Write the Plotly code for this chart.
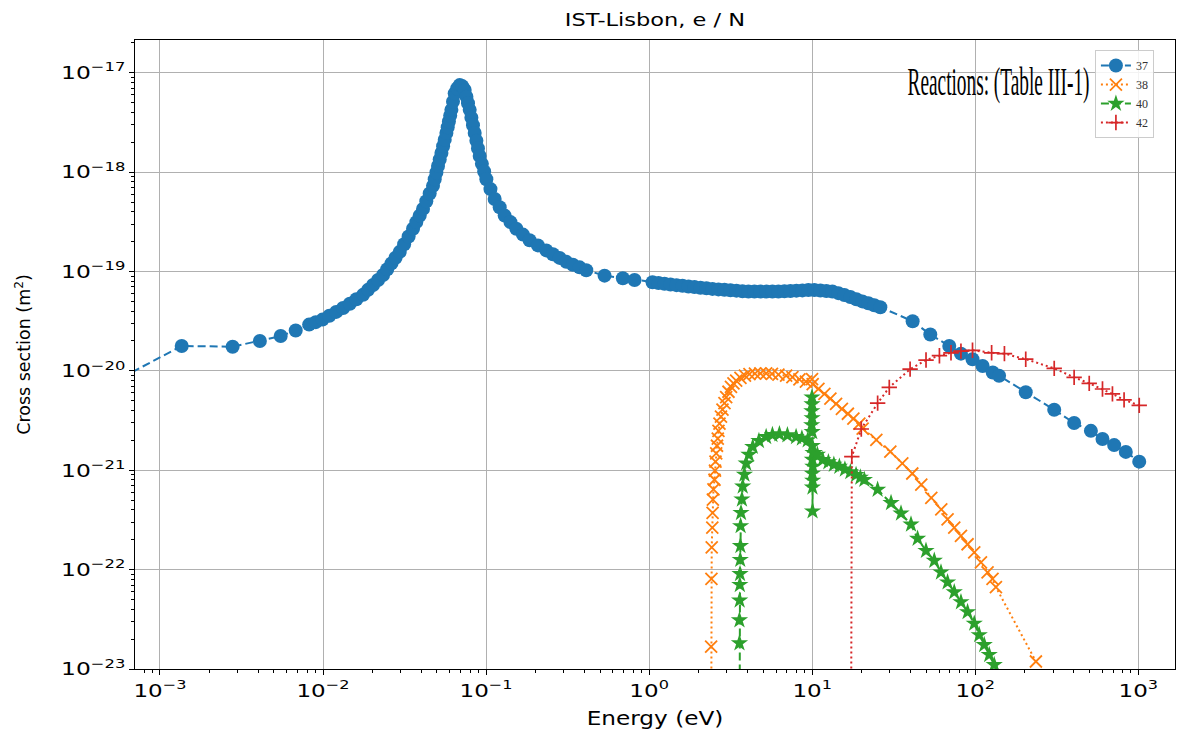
import plotly.graph_objects as go

# Cross sections (energy in eV, cross section in m^2) for each reaction
reaction_37 = [
    (5.0e-4, 7.5e-21), (1.36e-3, 1.78e-20), (2.79e-3, 1.75e-20), (4.1e-3, 2.0e-20),
    (5.5e-3, 2.24e-20), (6.8e-3, 2.55e-20), (8.22e-3, 2.92e-20), (9.03e-3, 3.09e-20),
    (9.93e-3, 3.28e-20), (1.094e-2, 3.58e-20), (1.205e-2, 3.92e-20), (1.328e-2, 4.29e-20),
    (1.460e-2, 4.74e-20), (1.602e-2, 5.26e-20), (1.761e-2, 5.82e-20), (1.889e-2, 6.53e-20),
    (2.028e-2, 7.32e-20), (2.176e-2, 8.21e-20), (2.335e-2, 9.21e-20), (2.477e-2, 1.052e-19),
    (2.629e-2, 1.205e-19), (2.786e-2, 1.376e-19), (2.955e-2, 1.575e-19), (3.144e-2, 1.88e-19),
    (3.35e-2, 2.25e-19), (3.565e-2, 2.69e-19), (3.735e-2, 3.14e-19), (3.918e-2, 3.65e-19),
    (4.105e-2, 4.26e-19), (4.30e-2, 5.09e-19), (4.511e-2, 6.08e-19), (4.726e-2, 7.27e-19),
    (4.842e-2, 8.48e-19), (4.96e-2, 9.89e-19), (5.074e-2, 1.15e-18), (5.197e-2, 1.34e-18),
    (5.323e-2, 1.56e-18), (5.452e-2, 1.82e-18), (5.577e-2, 2.12e-18), (5.712e-2, 2.48e-18),
    (5.818e-2, 2.83e-18), (5.918e-2, 3.23e-18), (6.026e-2, 3.70e-18), (6.129e-2, 4.23e-18),
    (6.269e-2, 5.12e-18), (6.421e-2, 6.20e-18), (6.651e-2, 6.93e-18), (6.89e-2, 7.50e-18),
    (7.139e-2, 7.33e-18), (7.395e-2, 6.69e-18), (7.575e-2, 5.74e-18), (7.748e-2, 4.93e-18),
    (7.936e-2, 4.23e-18), (8.128e-2, 3.53e-18), (8.314e-2, 2.96e-18), (8.515e-2, 2.48e-18),
    (8.722e-2, 2.07e-18), (8.92e-2, 1.73e-18), (9.137e-2, 1.45e-18), (9.425e-2, 1.21e-18),
    (9.736e-2, 1.014e-18), (0.1004, 8.48e-19), (0.1064, 6.74e-19), (0.1129, 5.36e-19),
    (0.1212, 4.43e-19), (0.1300, 3.65e-19), (0.1411, 3.14e-19), (0.1533, 2.69e-19),
    (0.1683, 2.35e-19), (0.1850, 2.06e-19), (0.2080, 1.83e-19), (0.2341, 1.63e-19),
    (0.2570, 1.49e-19), (0.2825, 1.37e-19), (0.3105, 1.25e-19), (0.3407, 1.17e-19),
    (0.3746, 1.10e-19), (0.4117, 1.03e-19), (0.5329, 9.08e-20), (0.6899, 8.54e-20),
    (0.8138, 8.21e-20), (1.049, 7.79e-20), (1.142, 7.66e-20), (1.243, 7.52e-20),
    (1.352, 7.40e-20), (1.472, 7.28e-20), (1.602, 7.17e-20), (1.743, 7.05e-20),
    (1.897, 6.96e-20), (2.065, 6.86e-20), (2.247, 6.77e-20), (2.446, 6.68e-20),
    (2.662, 6.60e-20), (2.897, 6.54e-20), (3.153, 6.47e-20), (3.432, 6.41e-20),
    (3.735, 6.33e-20), (4.065, 6.29e-20), (4.424, 6.29e-20), (4.815, 6.29e-20),
    (5.241, 6.29e-20), (5.703, 6.29e-20), (6.207, 6.29e-20), (6.756, 6.32e-20),
    (7.353, 6.36e-20), (8.002, 6.41e-20), (8.710, 6.45e-20), (9.478, 6.50e-20),
    (10.31, 6.52e-20), (11.23, 6.44e-20), (12.22, 6.36e-20), (13.30, 6.29e-20),
    (14.47, 6.05e-20), (15.75, 5.80e-20), (17.14, 5.53e-20), (18.66, 5.26e-20),
    (20.31, 5.00e-20), (22.10, 4.79e-20), (24.05, 4.57e-20), (26.18, 4.37e-20),
    (41.3, 3.16e-20), (53.0, 2.32e-20), (69.3, 1.78e-20), (81.7, 1.49e-20),
    (96.2, 1.31e-20), (111, 1.12e-20), (128, 9.64e-21), (140, 8.93e-21),
    (204, 6.1e-21), (305, 4.06e-21), (404, 2.99e-21), (512, 2.49e-21),
    (603, 2.06e-21), (711, 1.79e-21), (838, 1.53e-21), (1013, 1.22e-21),
]

reaction_38 = [
    (2.40, 1e-24), (2.40, 1.68e-23), (2.41, 8.07e-23), (2.42, 1.67e-22), (2.44, 2.64e-22),
    (2.45, 3.73e-22), (2.46, 5.07e-22), (2.48, 6.42e-22), (2.516, 8.02e-22), (2.534, 9.93e-22),
    (2.552, 1.221e-21), (2.578, 1.478e-21), (2.607, 1.763e-21), (2.636, 2.084e-21),
    (2.662, 2.488e-21), (2.700, 2.942e-21), (2.758, 3.47e-21), (2.817, 4.075e-21),
    (2.897, 4.73e-21), (2.968, 5.43e-21), (3.066, 6.16e-21), (3.176, 6.91e-21),
    (3.290, 7.49e-21), (3.418, 7.97e-21), (3.631, 8.50e-21), (3.869, 8.94e-21),
    (4.124, 9.27e-21), (4.456, 9.38e-21), (4.815, 9.42e-21), (5.219, 9.42e-21),
    (5.665, 9.31e-21), (6.207, 9.17e-21), (6.920, 8.94e-21), (7.563, 8.63e-21),
    (8.349, 8.21e-21), (9.150, 7.79e-21), (9.98, 8.26e-21), (10.07, 7.37e-21),
    (10.92, 6.60e-21), (11.88, 5.88e-21), (12.93, 5.25e-21), (14.01, 4.66e-21),
    (15.21, 4.15e-21), (16.55, 3.70e-21), (17.89, 3.30e-21), (19.46, 2.94e-21),
    (20.39, 2.62e-21), (24.74, 2.02e-21), (30.15, 1.536e-21), (35.70, 1.174e-21),
    (41.11, 9.27e-22), (46.67, 7.15e-22), (53.76, 5.26e-22), (61.90, 4.03e-22),
    (67.66, 3.20e-22), (74.34, 2.64e-22), (81.74, 2.18e-22), (89.73, 1.80e-22),
    (98.6, 1.49e-22), (108.4, 1.18e-22), (119.0, 9.40e-23), (127.6, 8.08e-23),
    (133.9, 6.66e-23), (235.5, 1.19e-23),
]

reaction_40 = [
    (3.58, 1e-24), (3.58, 1.82e-23), (3.58, 3.10e-23), (3.59, 4.91e-23), (3.60, 7.04e-23),
    (3.61, 9.06e-23), (3.62, 1.258e-22), (3.63, 1.735e-22), (3.64, 2.75e-22), (3.66, 3.73e-22),
    (3.708, 5.10e-22), (3.750, 6.88e-22), (3.841, 9.06e-22), (3.936, 1.174e-21),
    (4.094, 1.434e-21), (4.320, 1.723e-21), (4.714, 1.978e-21), (5.219, 2.168e-21),
    (5.703, 2.270e-21), (6.296, 2.307e-21), (7.047, 2.254e-21), (7.966, 2.168e-21),
    (8.648, 2.094e-21), (9.385, 2.009e-21), (9.93, 2.85e-21), (9.95, 3.94e-21),
    (9.97, 5.43e-21), (9.98, 4.62e-21), (9.99, 3.35e-21), (10.0, 2.43e-21),
    (10.01, 1.76e-21), (10.02, 1.28e-21), (10.03, 9.27e-22), (10.04, 6.72e-22),
    (10.05, 3.87e-22), (10.07, 7.89e-22), (10.09, 1.09e-21), (10.12, 1.50e-21),
    (10.3, 1.50e-21), (10.76, 1.434e-21), (11.60, 1.270e-21), (12.57, 1.207e-21),
    (13.58, 1.140e-21), (14.68, 1.089e-21), (15.87, 1.021e-21), (17.14, 9.60e-22),
    (18.58, 9.00e-22), (19.74, 8.46e-22), (20.89, 8.02e-22), (25.19, 6.38e-22),
    (30.45, 4.69e-22), (35.05, 3.68e-22), (40.36, 2.85e-22), (44.30, 2.05e-22),
    (49.88, 1.55e-22), (56.08, 1.23e-22), (61.64, 9.40e-23), (67.66, 7.47e-23),
    (74.34, 5.94e-23), (81.74, 4.72e-23), (89.73, 3.75e-23), (98.6, 2.87e-23),
    (105.8, 2.20e-23), (113.5, 1.75e-23), (121.8, 1.39e-23), (130.7, 1.10e-23),
    (136, 9.0e-24),
]

reaction_42 = [
    (17.3, 1e-24), (17.5, 1.37e-21), (20.0, 2.6e-21), (25.2, 4.73e-21), (29.7, 6.82e-21),
    (39.85, 1.04e-20), (49.9, 1.284e-20), (60.3, 1.42e-20), (71.0, 1.52e-20),
    (81.7, 1.58e-20), (96.2, 1.61e-20), (126, 1.52e-20), (151, 1.49e-20),
    (204, 1.31e-20), (305, 1.06e-20), (404, 8.59e-21), (500, 7.48e-21),
    (603, 6.57e-21), (694, 5.86e-21), (818, 5.1e-21), (1013, 4.49e-21),
]

x_decades = [-3, -2, -1, 0, 1, 2, 3]
y_decades = [-23, -22, -21, -20, -19, -18, -17]

BLUE, ORANGE, GREEN, RED = "#1f77b4", "#ff7f0e", "#2ca02c", "#d62728"


def sup_label(p):
    return "10<sup>" + str(p).replace("-", "\u2212") + "</sup>"


def minor_vals(lo, hi):
    return [k * 10.0 ** d for d in range(lo, hi + 1) for k in range(2, 10)]


fig = go.Figure()

series = [
    ("37", reaction_37, dict(color=BLUE, width=2, dash="8px,4px"),
     dict(symbol="circle", size=14, color=BLUE, line=dict(width=0))),
    ("38", reaction_38, dict(color=ORANGE, width=2, dash="2px,3px"),
     dict(symbol="x-thin", size=12, color=ORANGE, line=dict(color=ORANGE, width=1.8))),
    ("40", reaction_40, dict(color=GREEN, width=2, dash="8px,4px"),
     dict(symbol="star", size=13, color=GREEN, line=dict(width=0))),
    ("42", reaction_42, dict(color=RED, width=2, dash="2px,3px"),
     dict(symbol="cross-thin", size=11, color=RED, line=dict(color=RED, width=1.7))),
]

for name, pts, line, marker in series:
    fig.add_trace(go.Scatter(
        x=[p[0] for p in pts], y=[p[1] for p in pts],
        mode="lines+markers", name=name, line=line, marker=marker,
    ))

axis_common = dict(
    type="log", showgrid=True, gridcolor="#b0b0b0", gridwidth=1,
    showline=True, linecolor="black", linewidth=1, mirror=True,
    ticks="outside", ticklen=5, tickwidth=1, tickcolor="black",
    zeroline=False,
    tickfont=dict(family="DejaVu Sans", size=18, color="black"),
)

fig.update_xaxes(
    **axis_common,
    range=[-3.153, 3.225],
    tickvals=[10.0 ** d for d in x_decades],
    ticktext=[sup_label(d) for d in x_decades],
    minor=dict(tickmode="array", tickvals=minor_vals(-4, 3), ticks="outside",
               ticklen=3, tickcolor="black", showgrid=False),
    title=dict(text="Energy (eV)", standoff=12,
               font=dict(family="DejaVu Sans", size=19, color="black")),
)
fig.update_yaxes(
    **axis_common,
    range=[-23, -16.671],
    tickvals=[10.0 ** d for d in y_decades],
    ticktext=[sup_label(d) for d in y_decades],
    minor=dict(tickmode="array", tickvals=minor_vals(-24, -17), ticks="outside",
               ticklen=3, tickcolor="black", showgrid=False),
    title=dict(text="Cross section (m<sup>2</sup>)", standoff=40,
               font=dict(family="DejaVu Sans", size=17.5, color="black")),
)

fig.add_annotation(
    text="Reactions: (Table III-1)", xref="paper", yref="paper",
    x=0.830, y=0.934, xanchor="center", yanchor="middle", showarrow=False,
    font=dict(family="Liberation Serif", size=40, color="black"),
)

fig.update_layout(
    width=1188, height=738,
    margin=dict(l=135, r=12, t=40, b=63),
    paper_bgcolor="white", plot_bgcolor="white",
    title=dict(text="IST-Lisbon, e / N", x=0.5, xref="paper", xanchor="center",
               y=1 - 20 / 738, yref="container", yanchor="middle",
               font=dict(family="DejaVu Sans", size=18, color="black")),
    legend=dict(x=0.923, y=0.984, xanchor="left", yanchor="top",
                bgcolor="rgba(255,255,255,0.85)", bordercolor="#cccccc", borderwidth=1,
                font=dict(family="Liberation Serif", size=12, color="#333333"),
                tracegroupgap=0),
    showlegend=True,
)

# Text widths: the sans labels are drawn slightly wide, the serif caption condensed.
text_js = """
(function(){
  var gd = document.getElementById('{plot_id}');
  function widen(el, s, anchor){
    var cur = el.getAttribute('transform') || '';
    if (el.__applied === cur) return;
    var bb = el.getBBox();
    if (!bb.width) return;
    if (typeof s === 'function') s = s(bb);
    var ax = anchor === 'end' ? bb.x + bb.width : bb.x + bb.width / 2;
    var t = cur + ' translate(' + ax + ',0) scale(' + s + ',1) translate(' + (-ax) + ',0)';
    el.setAttribute('transform', t);
    el.__applied = t;
  }
  function run(){
    gd.querySelectorAll('g.xtick text').forEach(function(e){ widen(e, 1.28, 'center'); });
    gd.querySelectorAll('g.ytick text').forEach(function(e){ widen(e, 1.3, 'end'); });
    gd.querySelectorAll('text.gtitle').forEach(function(e){ widen(e, 1.25, 'center'); });
    gd.querySelectorAll('text.xtitle').forEach(function(e){ widen(e, 1.22, 'center'); });
    gd.querySelectorAll('text.annotation-text').forEach(function(e){
      widen(e, function(bb){ return 182 / bb.width; }, 'center');
    });
  }
  run();
  if (gd.on) gd.on('plotly_afterplot', run);
})();
"""

fig.write_html("out.html", post_script=text_js)
